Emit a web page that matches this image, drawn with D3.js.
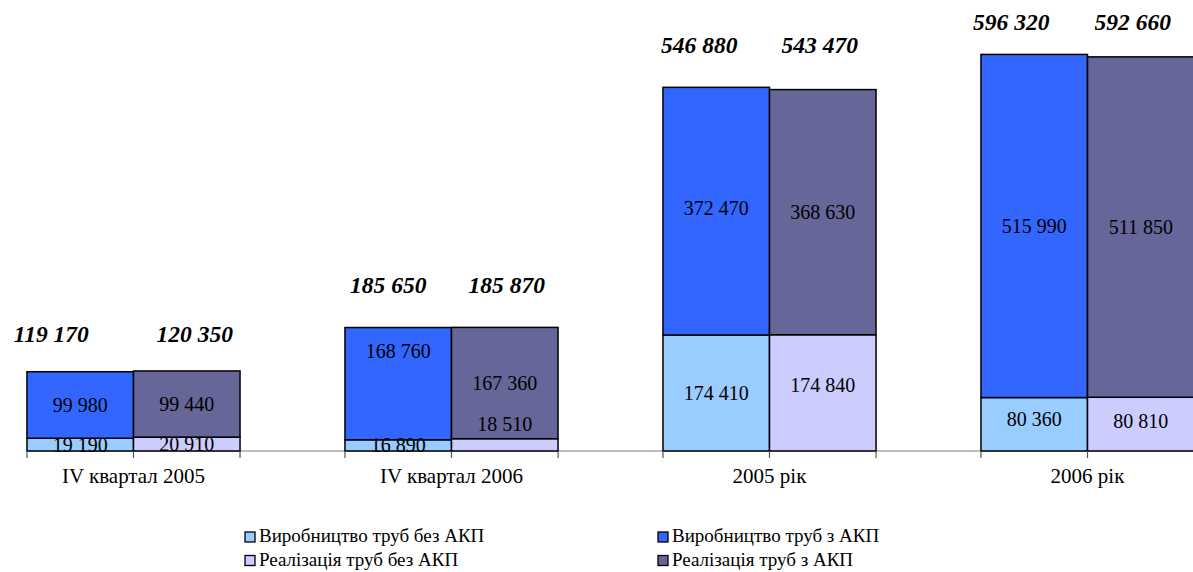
<!DOCTYPE html>
<html>
<head>
<meta charset="utf-8">
<script src="https://cdn.jsdelivr.net/npm/d3@7"></script>
<style>
  html, body { margin: 0; padding: 0; background: #fff; }
</style>
</head>
<body>
<svg id="chart" width="1193" height="572" font-family="Liberation Serif"></svg>
<script>
// Pipe output and sales, tonnes: without / with anti-corrosion coating (АКП)
const categories  = ["IV квартал 2005", "IV квартал 2006", "2005 рік", "2006 рік"];
const prodNoCoat  = [19190, 16890, 174410, 80360];
const prodCoat    = [99980, 168760, 372470, 515990];
const salesNoCoat = [20910, 18510, 174840, 80810];
const salesCoat   = [99440, 167360, 368630, 511850];
const prodTotal   = [119170, 185650, 546880, 596320];
const salesTotal  = [120350, 185870, 543470, 592660];

const seriesNames = [
  "Виробництво труб без АКП",
  "Виробництво труб з АКП",
  "Реалізація труб без АКП",
  "Реалізація труб з АКП"
];
const colors = {
  prodNo: "#99ccff", prodYes: "#3366ff",
  salesNo: "#ccccff", salesYes: "#666699"
};

// label placement tweaks (layout only)
const totalLift = [29, 34, 34, 24];
const totalDx = [[-29, 8], [-10, 2], [-17, -3], [-23, -8]];
const innerDy = {            // key: stack-category
  "prodYes-1": -33, "salesNo-1": -21, "salesNo-2": -8,
  "prodNo-3": -5, "salesNo-3": -3, "prodYes-2": -3
};

const FONT = "Liberation Serif";
const fmt = v => d3.format(",")(v).replace(/,/g, " ");

const svg = d3.select("#chart");
const W = 1193;
const baseY = 451;

const x = d3.scaleBand()
  .domain(categories)
  .range([-25.5, 1246.5])
  .paddingInner(0.33)
  .paddingOuter(0.165);

const y = d3.scaleLinear().domain([0, 600000]).range([baseY, 52]);

const half = x.bandwidth() / 2;

// build the stacked segments
const segs = [];
categories.forEach((c, i) => {
  const x0 = x(c);
  segs.push({ key: "prodNo",  i, x: x0,        lo: 0,              hi: prodNoCoat[i] });
  segs.push({ key: "prodYes", i, x: x0,        lo: prodNoCoat[i],  hi: prodNoCoat[i] + prodCoat[i] });
  segs.push({ key: "salesNo", i, x: x0 + half, lo: 0,              hi: salesNoCoat[i] });
  segs.push({ key: "salesYes",i, x: x0 + half, lo: salesNoCoat[i], hi: salesNoCoat[i] + salesCoat[i] });
});
const segVal = d => d.hi - d.lo;

// baseline of the category axis
svg.append("line")
  .attr("x1", x(categories[0])).attr("x2", W)
  .attr("y1", baseY).attr("y2", baseY)
  .attr("stroke", "#7f7f7f").attr("stroke-width", 1.2);

// bars
svg.append("g").selectAll("rect")
  .data(segs)
  .join("rect")
  .attr("x", d => d.x)
  .attr("width", half)
  .attr("y", d => y(d.hi))
  .attr("height", d => y(d.lo) - y(d.hi))
  .attr("fill", d => colors[d.key])
  .attr("stroke", "#000")
  .attr("stroke-width", 1.5);

// small ticks at bar edges
const tickXs = [];
categories.forEach(c => { tickXs.push(x(c), x(c) + half, x(c) + 2 * half); });
svg.append("g").selectAll("line")
  .data(tickXs)
  .join("line")
  .attr("x1", d => d).attr("x2", d => d)
  .attr("y1", baseY).attr("y2", baseY + 7)
  .attr("stroke", "#555").attr("stroke-width", 1.2);

// category labels
const axis = d3.axisBottom(x).tickSize(0).tickPadding(0);
const gAxis = svg.append("g").attr("transform", `translate(0,${baseY})`).call(axis);
gAxis.attr("font-family", FONT);
gAxis.select(".domain").remove();
gAxis.selectAll("text")
  .attr("y", 32).attr("dy", null)
  .attr("font-size", 21)
  .attr("fill", "#000");

// value labels inside segments
svg.append("g").attr("font-family", FONT).selectAll("text")
  .data(segs)
  .join("text")
  .attr("x", d => d.x + half / 2)
  .attr("y", d => (y(d.lo) + y(d.hi)) / 2 + 7 + (innerDy[d.key + "-" + d.i] || 0))
  .attr("text-anchor", "middle")
  .attr("font-size", 20)
  .attr("fill", "#000")
  .text(d => fmt(segVal(d)));

// totals above each pair of bars
categories.forEach((c, i) => {
  const top = y(Math.max(prodTotal[i], salesTotal[i])) - totalLift[i];
  [[prodTotal[i], x(c) + half / 2 + totalDx[i][0]],
   [salesTotal[i], x(c) + half * 1.5 + totalDx[i][1]]].forEach(([v, cx]) => {
    svg.append("text")
      .attr("x", cx).attr("y", top)
      .attr("text-anchor", "middle")
      .attr("font-family", FONT)
      .attr("font-size", 23.5)
      .attr("font-weight", "bold")
      .attr("font-style", "italic")
      .attr("fill", "#000")
      .text(fmt(v));
  });
});

// legend, two columns x two rows
const legendItems = [
  { name: seriesNames[0], color: colors.prodNo,  col: 0, row: 0 },
  { name: seriesNames[1], color: colors.prodYes, col: 1, row: 0 },
  { name: seriesNames[2], color: colors.salesNo, col: 0, row: 1 },
  { name: seriesNames[3], color: colors.salesYes,col: 1, row: 1 }
];
const lg = svg.append("g").attr("transform", "translate(245,532)");
const li = lg.selectAll("g").data(legendItems).join("g")
  .attr("transform", d => `translate(${d.col * 413},${d.row * 23.5})`);
li.append("rect")
  .attr("width", 10).attr("height", 10)
  .attr("fill", d => d.color)
  .attr("stroke", "#000").attr("stroke-width", 1.3);
li.append("text")
  .attr("x", 14).attr("y", 10)
  .attr("font-family", FONT)
  .attr("font-size", 19)
  .attr("fill", "#000")
  .text(d => d.name);
</script>
</body>
</html>
